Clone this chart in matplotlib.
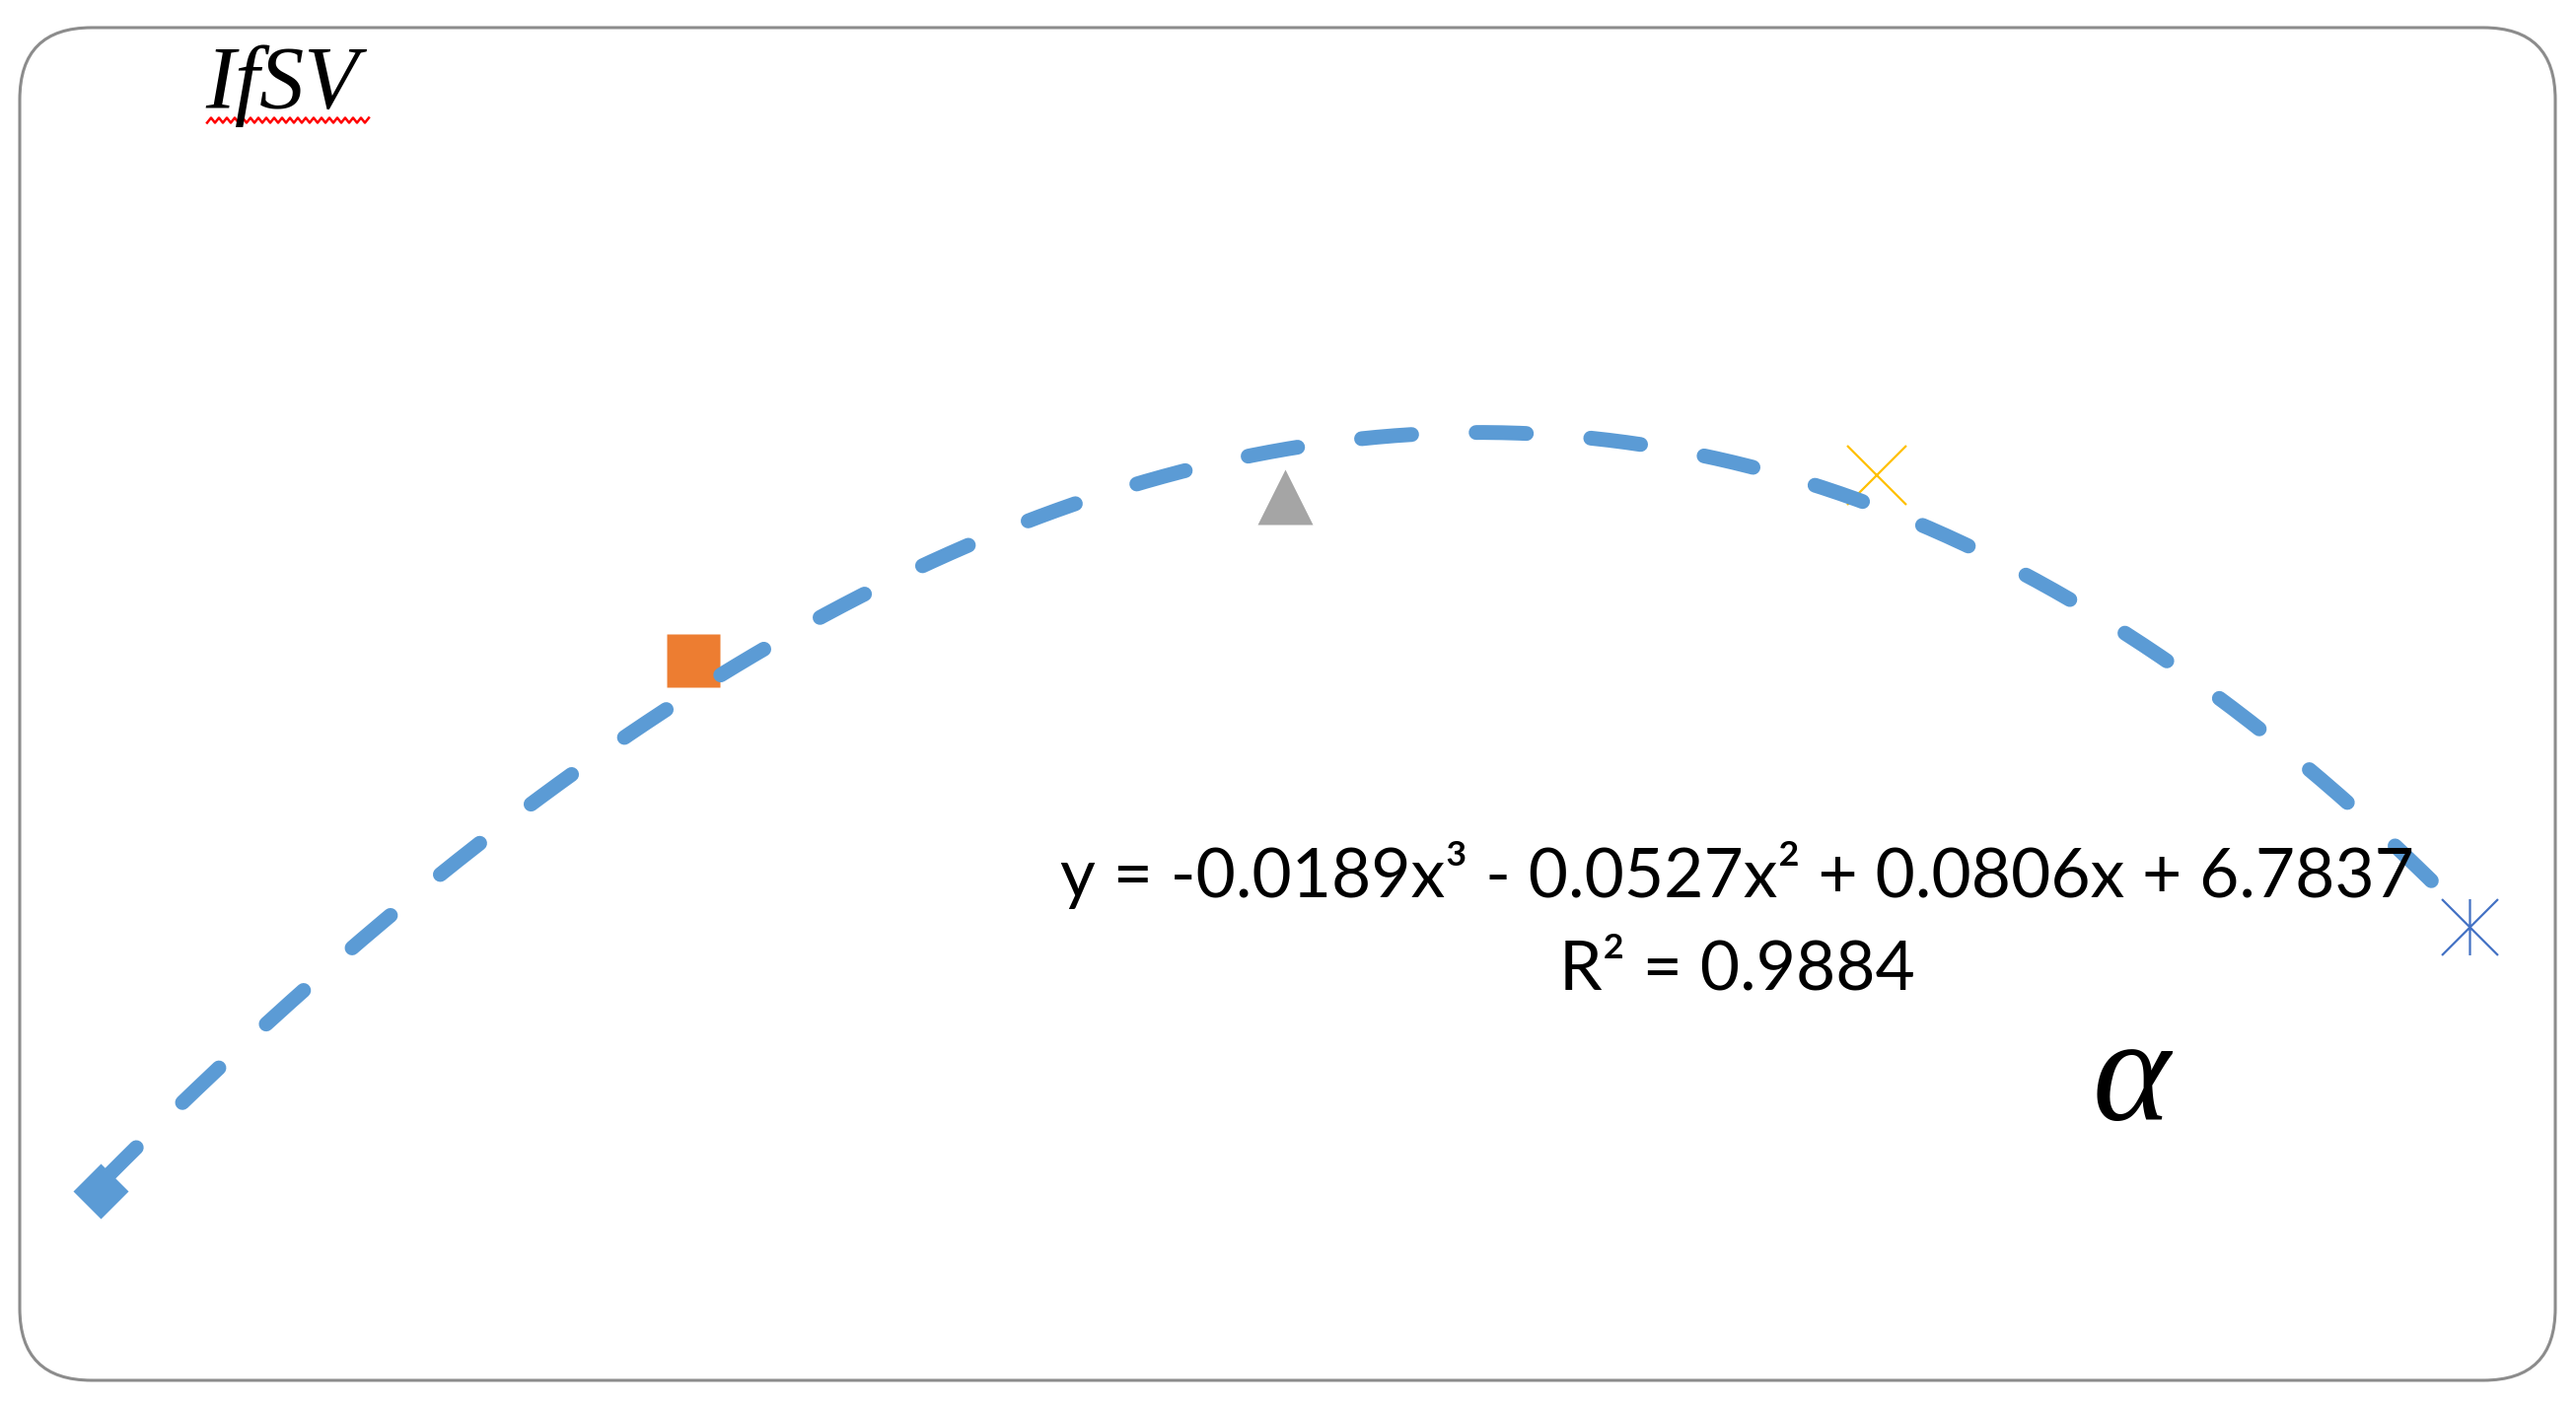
import numpy as np
import matplotlib
matplotlib.use("Agg")
import matplotlib.pyplot as plt
from matplotlib.patches import FancyBboxPatch
from matplotlib.path import Path
from matplotlib.lines import Line2D

# alpha (category position) and IfSV, arbitrary units
alpha = [1, 2, 3, 4, 5]
ifsv = [2.16, 7.54, 9.20, 9.42, 4.84]
marker_colors = ["#5B9BD5", "#ED7D31", "#A5A5A5", "#FFC000", "#4472C4"]
equation = "y = -0.0189x³ - 0.0527x² + 0.0806x + 6.7837"
r_squared = "R² = 0.9884"

W, H = 2612, 1424


def fx(px):
    return px / W


def fy(py):
    return 1 - py / H


fig = plt.figure(figsize=(W / 100, H / 100), dpi=100)
ax = fig.add_axes([0, 0, 1, 1])
ax.set_xlim(0.83, 5.18)
ax.set_ylim(0, 14.24)
ax.axis("off")

# rounded chart frame
frame = FancyBboxPatch((0.20, 0.24), 25.71, 13.72,
                       boxstyle="round,pad=0,rounding_size=0.73",
                       transform=fig.dpi_scale_trans,
                       facecolor="white", edgecolor="#8c8c8c", linewidth=2.2,
                       zorder=0)
fig.add_artist(frame)

# asterisk marker like excel's star (x plus vertical bar)
star = Path([(-0.5, -0.5), (0.5, 0.5), (-0.5, 0.5), (0.5, -0.5), (0, -0.5), (0, 0.5)],
            [Path.MOVETO, Path.LINETO, Path.MOVETO, Path.LINETO, Path.MOVETO, Path.LINETO])

ax.plot(alpha[0], ifsv[0], marker="D", ms=29, color=marker_colors[0], mec="none", zorder=2)
ax.plot(alpha[1], ifsv[1], marker="s", ms=39, color=marker_colors[1], mec="none", zorder=2)
ax.plot(alpha[2], ifsv[2], marker="^", ms=41, color=marker_colors[2], mec="none", zorder=2)
ax.plot(alpha[3], ifsv[3], marker="x", ms=43, color=marker_colors[3], mew=1.6, zorder=2)
ax.plot(alpha[4], ifsv[4], marker=star, ms=41, color=marker_colors[4], mfc="none", mew=1.6, zorder=2)

# cubic trendline fitted to the five points
coef = np.polyfit(alpha, ifsv, 3)
xs = np.linspace(alpha[0], alpha[-1], 400)
ax.plot(xs, np.polyval(coef, xs), color="#5B9BD5", lw=10.8,
        dashes=(3.4, 4.36), dash_capstyle="round", zorder=3)

# labels
fig.text(fx(208), fy(110), "IfSV", fontsize=65, family="Liberation Serif",
         style="italic", ha="left", va="baseline")
# spell-check squiggle under the word
zx = np.arange(210, 378, 4)
zy = 122 + 2.5 * (-1) ** np.arange(len(zx))
fig.add_artist(Line2D(fx(zx), fy(zy), color="red", lw=1.8, transform=fig.transFigure))

fig.text(fx(1761), fy(910), equation, fontsize=50, family=["Lato", "DejaVu Sans"],
         ha="center", va="baseline")
fig.text(fx(1761), fy(1003), r_squared, fontsize=50, family=["Lato", "DejaVu Sans"],
         ha="center", va="baseline")
fig.text(fx(2122), fy(1136), "α", fontsize=108, family="Liberation Serif",
         style="italic", ha="left", va="baseline")

fig.savefig("out.png", dpi=100)
